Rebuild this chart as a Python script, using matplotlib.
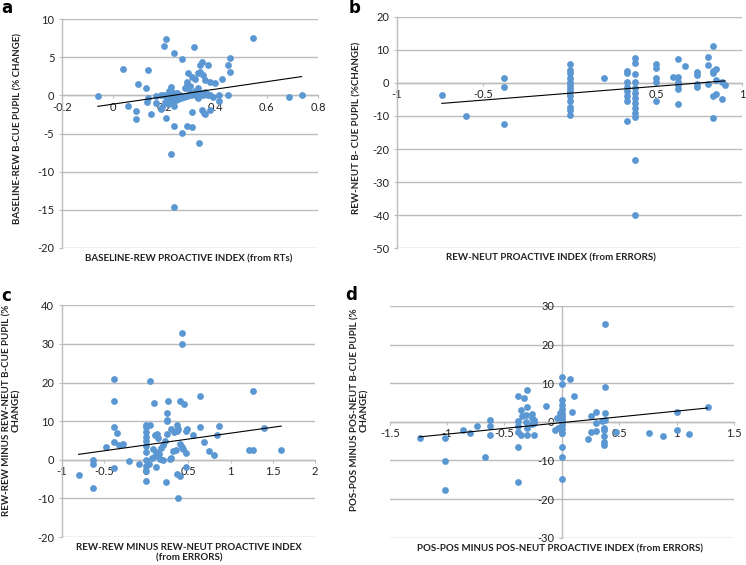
import matplotlib
matplotlib.use('Agg')
import matplotlib.pyplot as plt
import numpy as np

plt.rcParams['font.family'] = ['Lato', 'DejaVu Sans']

BLUE = '#5b97d2'
GRID = '#bcbcbc'

# ---------------- Panel a ----------------
a_x = [-0.06, 0.547, 0.205, 0.197, 0.317, 0.238, 0.268, 0.037, 0.137, 0.346,
       0.339, 0.369, 0.456, 0.447, 0.456, 0.426, 0.293, 0.307, 0.320, 0.287,
       0.287, 0.333, 0.340, 0.350, 0.359, 0.378, 0.398, 0.098, 0.127, 0.226,
       0.218, 0.333, 0.137, 0.167, 0.185, 0.200, 0.215, 0.230, 0.245, 0.260,
       0.275, 0.290, 0.305, 0.320, 0.335, 0.350, 0.365, 0.380, 0.415, 0.450,
       0.131, 0.167, 0.057, 0.088, 0.088, 0.148, 0.187, 0.192, 0.206, 0.215,
       0.228, 0.237, 0.307, 0.346, 0.355, 0.360, 0.378, 0.239, 0.268, 0.287,
       0.307, 0.336, 0.226, 0.239, 0.415, 0.688, 0.736, 0.202, 0.212, 0.228,
       0.245, 0.280, 0.300, 0.255, 0.265, 0.300, 0.318, 0.345, 0.360, 0.390,
       0.230, 0.250, 0.330, 0.370]
a_y = [-0.05, 7.47, 7.34, 6.46, 6.29, 5.50, 4.76, 3.41, 3.32, 4.41,
       3.97, 3.97, 4.84, 3.97, 3.10, 2.14, 2.88, 2.44, 2.10, 1.79,
       1.36, 2.88, 3.10, 2.70, 2.00, 1.79, 1.57, 1.44, 0.92, 1.05,
       0.60, 0.92, -0.39, -0.05, 0.00, 0.10, 0.00, 0.05, -0.10, 0.10,
       -0.20, -0.15, 0.05, 0.10, 0.05, 0.00, 0.20, 0.05, -0.70, 0.00,
       -0.83, -0.96, -1.40, -2.01, -3.10, -2.50, -1.83, -1.50, -3.00, -1.20,
       -0.90, -1.40, -2.18, -1.92, -2.30, -2.50, -1.90, -3.97, -4.90, -4.00,
       -4.20, -6.20, -7.70, -14.60, 0.00, -0.20, 0.00, -0.83, -0.60, -0.40,
       -0.60, 0.92, 1.20, -0.50, -0.30, 0.40, 0.60, 0.30, 0.50, -0.20,
       0.50, 0.30, -0.40, 0.10]
a_fit = (4.9, -1.15)

# ---------------- Panel b ----------------
b_x = [-0.74, -0.60, -0.38, -0.38, -0.38,
       0, 0, 0, 0, 0, 0, 0, 0, 0, 0, 0, 0, 0,
       0.20,
       0.33, 0.33, 0.33, 0.33, 0.33, 0.33, 0.33, 0.33,
       0.38, 0.38, 0.38, 0.38, 0.38, 0.38, 0.38, 0.38, 0.38, 0.38, 0.38, 0.38, 0.38,
       0.50, 0.50, 0.50, 0.50, 0.50,
       0.60,
       0.63, 0.63, 0.63, 0.63, 0.63, 0.63,
       0.67,
       0.74, 0.74, 0.74, 0.74,
       0.80, 0.80, 0.80,
       0.83, 0.83, 0.83, 0.83, 0.83,
       0.85, 0.85, 0.85,
       0.88, 0.88,
       0.90]
b_y = [-3.7, -9.9, 1.4, -1.2, -12.3,
       5.7, 3.9, 3.1, 1.4, 0.4, -0.6, -1.6, -2.6, -4.1, -5.6, -7.2, -8.2, -9.7,
       1.5,
       3.7, 3.1, 0.2, -1.1, -2.6, -4.1, -5.6, -11.6,
       7.4, 6.1, 2.7, 0.4, -1.6, -3.1, -4.6, -6.1, -7.6, -9.2, -10.4, -23.3, -39.9,
       5.7, 4.4, 1.5, 0.4, -5.6,
       1.7,
       7.1, 1.7, 0.4, -0.6, -1.8, -6.4,
       5.1,
       3.4, 2.4, -0.3, -1.2,
       7.9, 5.4, -0.3,
       11.1, 3.7, 3.1, -4.0, -10.5,
       4.1, 0.9, -3.3,
       -4.9, 0.4,
       -0.6]
b_fit = (4.15, -3.13)

# ---------------- Panel c ----------------
c_x = [-0.80, -0.63, -0.63, -0.63, -0.48, -0.375, -0.375, -0.375, -0.375, -0.375,
       -0.35, -0.32, -0.27, -0.20, -0.08,
       0, 0, 0, 0, 0, 0, 0, 0, 0, 0, 0,
       0.04, 0.05, 0.09, 0.10, 0.13, 0.14, 0.08, 0.12, 0.07, 0.03, 0.16, 0.20,
       0.12, 0.18, 0.15,
       0.26, 0.25, 0.25, 0.25, 0.25, 0.30, 0.24, 0.33, 0.36, 0.38,
       0.42, 0.42, 0.40, 0.45, 0.36, 0.40, 0.43, 0.35, 0.47, 0.30, 0.28,
       0.36, 0.40, 0.47, 0.38, 0.48, 0.47, 0.55,
       0.64, 0.64, 0.68, 0.74, 0.80, 0.86, 0.84,
       1.22, 1.27, 1.27, 1.40, 1.60, 0.22, 0.32, 0.44, 0.10, 0.20]
c_y = [-4.0, 0.0, -1.0, -7.3, 3.4, 20.8, 15.1, 8.6, 4.6, -2.1,
       6.9, 3.9, 4.2, -0.3, -1.1,
       8.4, 7.2, 6.0, 4.8, 3.5, 2.0, 0.0, -1.6, -3.0, -5.6, 9.0,
       20.5, 9.1, 14.7, 6.5, 6.7, 5.6, 2.7, 2.0, 0.5, -1.0, 0.3, 0.0,
       -2.0, 3.0, 1.5,
       15.2, 12.1, 10.4, 10.0, 6.6, 8.0, -5.8, 7.2, 8.9, 8.0,
       32.8, 29.9, 15.1, 14.5, 7.5, 4.0, 3.3, 2.5, 1.7, 0.5, 0.2,
       -3.7, -4.3, -2.0, -9.9, 8.0, 7.5, 6.3,
       16.4, 8.6, 4.5, 2.2, 1.3, 8.8, 6.3,
       2.6, 2.6, 17.8, 8.2, 2.6, 4.8, 2.2, 2.8, 1.0, 3.8]
c_fit = (3.05, 3.84)

# ---------------- Panel d ----------------
d_x = [-1.24, -1.02, -1.02, -1.02, -0.86, -0.80, -0.74, -0.67, -0.63, -0.63,
       -0.63, -0.38, -0.38, -0.38, -0.38, -0.36, -0.38, -0.38, -0.36, -0.33,
       -0.30, -0.30, -0.31, -0.31, -0.30, -0.30, -0.35, -0.26, -0.26, -0.24,
       -0.26, -0.24, -0.24, -0.137, -0.064,
       0, 0, 0, 0, 0, 0, 0, 0, 0, 0, 0, 0, 0, 0, 0, -0.02, -0.04, -0.03,
       0.07, 0.09, 0.105, 0.23, 0.25, 0.25, 0.30, 0.30, 0.30, 0.35, 0.37,
       0.37, 0.37, 0.37, 0.37, 0.38, 0.38, 0.38, 0.38, 0.47, 0.76, 0.88,
       1.00, 1.00, 1.11, 1.27]
d_y = [-4.3, -4.1, -10.2, -17.7, -2.2, -2.8, -1.0, -9.2, 0.4, -1.0,
       -3.5, 6.6, 0.2, -1.0, -2.6, -3.5, -6.6, -15.5, 3.1, 6.2,
       8.2, 3.9, 1.7, 0.0, -1.6, -3.5, 1.5, 2.0, 1.0, 0.5,
       -0.5, -3.5, -0.3, 4.1, -2.2,
       11.6, 9.8, 5.6, 4.3, 3.2, 2.4, 1.5, 0.7, -0.1, -0.9, -1.8, -2.8, -6.6,
       -9.2, -14.7, 2.3, 1.0, -1.5,
       11.1, 2.5, 6.6, -4.4, 1.6, -2.5, 2.5, -0.4, -2.4, 0.3, -1.5,
       -2.2, -3.7, -5.3, -6.1, 25.3, 8.9, 2.2, 0.5, -2.5, -2.8, -3.6,
       2.5, -2.1, -3.1, 3.9]
d_fit = (2.98, -0.2)

fig = plt.figure(figsize=(7.46, 5.65), dpi=100)
W, H = 746.0, 565.0


def rect(x0, y0, x1, y1):
    return [x0 / W, 1 - y1 / H, (x1 - x0) / W, (y1 - y0) / H]


def panel(r, x, y, xlim, ylim, xticks, yticks, fit, yaxis_x):
    ax = fig.add_axes(r)
    ax.set_xlim(xlim)
    ax.set_ylim(ylim)
    ax.scatter(x, y, s=24, color=BLUE, zorder=3, linewidths=0)
    xs = np.array([min(x), max(x)])
    ax.plot(xs, fit[0] * xs + fit[1], color='black', lw=0.8, zorder=4)
    for s in ['top', 'right']:
        ax.spines[s].set_visible(False)
    ax.spines['bottom'].set_position(('data', 0))
    ax.spines['left'].set_position(('data', yaxis_x))
    for s in ['bottom', 'left']:
        ax.spines[s].set_color(GRID)
        ax.spines[s].set_linewidth(1.0)
        ax.spines[s].set_zorder(1)
    ax.set_xticks(xticks)
    ax.set_yticks(yticks)
    ax.set_xticklabels([('%g' % t) for t in xticks])
    ax.set_yticklabels([('%g' % t) for t in yticks])
    ax.yaxis.grid(True, color=GRID, lw=1.0)
    ax.set_axisbelow(True)
    ax.tick_params(axis='x', direction='out', length=2.5, color=GRID,
                   labelsize=8, pad=2, labelcolor='#222222')
    ax.tick_params(axis='y', direction='out', length=2.5, color=GRID,
                   labelsize=8, pad=3, labelcolor='#222222')
    ax.patch.set_alpha(0)
    return ax


lab = dict(fontsize=7, fontweight='bold', color='#222222')

# a
axa = panel(rect(62, 19, 318, 248), a_x, a_y, (-0.2, 0.8), (-20, 10),
            [-0.2, 0, 0.2, 0.4, 0.6, 0.8], [-20, -15, -10, -5, 0, 5, 10], a_fit, -0.2)
fig.text(18 / W, 1 - 128 / H, 'BASELINE-REW B-CUE PUPIL (% CHANGE)', rotation=90,
         ha='center', va='center', **lab)
fig.text(189 / W, 1 - 259 / H, 'BASELINE-REW PROACTIVE INDEX (from RTs)',
         ha='center', va='center', **lab)

# b
axb = panel(rect(397, 16.7, 742.3, 248.3), b_x, b_y, (-1, 1), (-50, 20),
            [-1, -0.5, 0, 0.5, 1], [-50, -40, -30, -20, -10, 0, 10, 20], b_fit, -1)
fig.text(357 / W, 1 - 128 / H, 'REW-NEUT B- CUE PUPIL (%CHANGE)', rotation=90,
         ha='center', va='center', **lab)
fig.text(551 / W, 1 - 258 / H, 'REW-NEUT PROACTIVE INDEX (from ERRORS)',
         ha='center', va='center', **lab)

# c
axc = panel(rect(61.7, 305.3, 315, 537), c_x, c_y, (-1, 2), (-20, 40),
            [-1, -0.5, 0, 0.5, 1, 1.5, 2], [-20, -10, 0, 10, 20, 30, 40], c_fit, -1)
fig.text(12 / W, 1 - 410 / H, 'REW-REW MINUS REW-NEUT B-CUE PUPIL (%\nCHANGE)',
         rotation=90, ha='center', va='center', multialignment='center',
         linespacing=1.15, **lab)
fig.text(189 / W, 1 - 553 / H, 'REW-REW MINUS REW-NEUT PROACTIVE INDEX\n(from ERRORS)',
         ha='center', va='center', multialignment='center', linespacing=1.15, **lab)

# d
axd = panel(rect(389.7, 306, 734, 537.7), d_x, d_y, (-1.5, 1.5), (-30, 30),
            [-1.5, -1, -0.5, 0, 0.5, 1, 1.5], [-30, -20, -10, 0, 10, 20, 30], d_fit, 0)
fig.text(360 / W, 1 - 410 / H, 'POS-POS MINUS POS-NEUT B-CUE PUPIL (%\nCHANGE)',
         rotation=90, ha='center', va='center', multialignment='center',
         linespacing=1.15, **lab)
fig.text(560 / W, 1 - 549 / H, 'POS-POS MINUS POS-NEUT PROACTIVE INDEX (from ERRORS)',
         ha='center', va='center', **lab)

for t, (px, py) in zip('abcd', [(7, 8), (355, 8), (6, 296), (351, 295)]):
    fig.text(px / W, 1 - py / H, t, fontsize=12, fontweight='bold',
             ha='center', va='center', family=['DejaVu Sans'])

fig.savefig('out.png', dpi=100)
